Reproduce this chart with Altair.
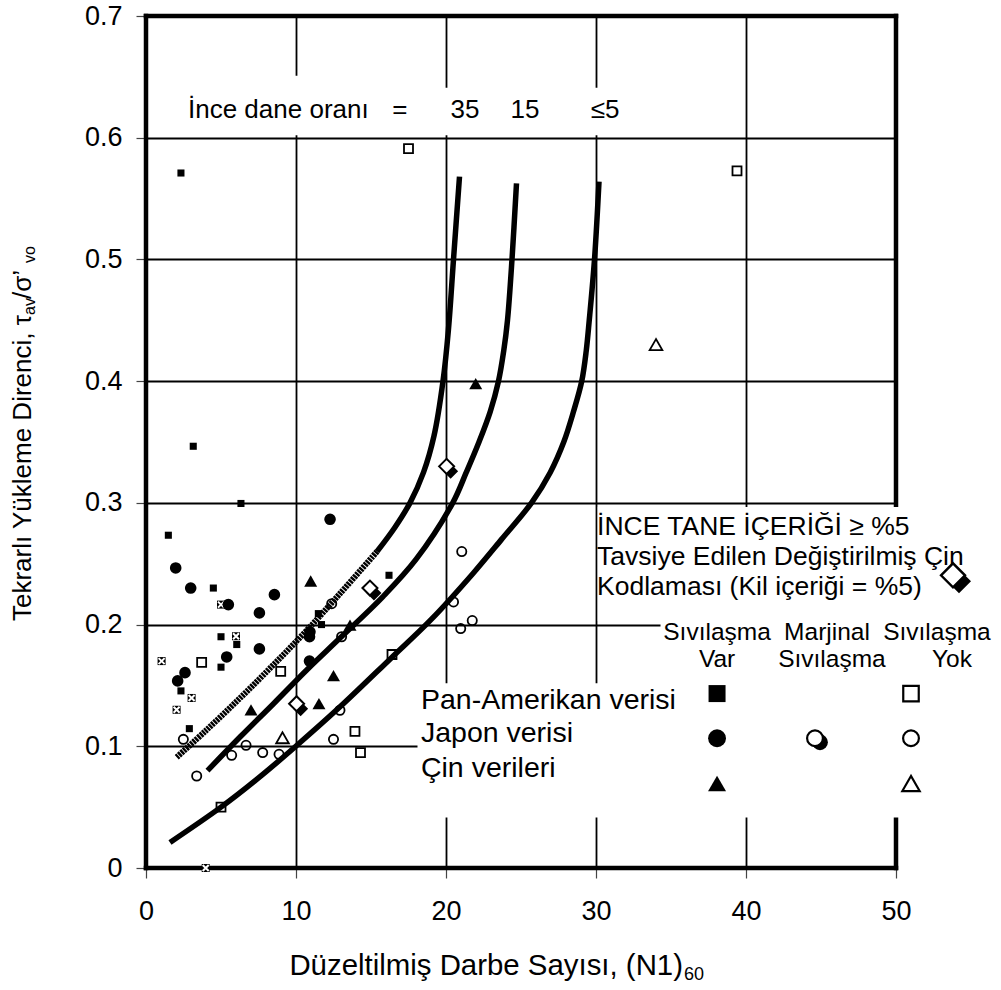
import altair as alt
import pandas as pd

FONT = "Liberation Sans"

# ---------------- curves (fines content 35 %, 15 %, <=5 %) ----------------
c35a_x = [2.05, 4.0, 6.3, 8.5, 10.7, 12.9, 15.4]
c35a_y = [0.091, 0.113, 0.140, 0.167, 0.195, 0.225, 0.260]
c35b_x = [15.4, 16.6, 17.6, 18.5, 19.2, 19.8, 20.16, 20.5, 20.9]
c35b_y = [0.260, 0.280, 0.300, 0.325, 0.355, 0.400, 0.442, 0.500, 0.568]
c15_x = [4.1, 6.3, 8.5, 10.7, 12.9, 15.8, 18.0, 20.45, 21.35, 22.2, 22.95, 23.5, 23.85, 24.1, 24.4, 24.7]
c15_y = [0.080, 0.108, 0.135, 0.1625, 0.1885, 0.223, 0.2535, 0.300, 0.325, 0.350, 0.375, 0.400, 0.425, 0.450, 0.500, 0.5625]
c5_x = [1.6, 5.0, 7.4, 9.8, 12.9, 16.3, 19.0, 21.8, 23.7, 25.7, 26.95, 27.85, 28.5, 29.05, 29.35, 29.55, 29.9, 30.2]
c5_y = [0.021, 0.050, 0.073, 0.098, 0.132, 0.172, 0.204, 0.242, 0.270, 0.300, 0.325, 0.350, 0.375, 0.400, 0.425, 0.450, 0.500, 0.564]

# ---------------- data points ----------------
sq_small_x = [2.33, 3.15, 6.33, 1.49, 4.49, 16.2, 11.49, 11.7, 5.0, 6.05, 5.0, 2.33, 2.89]
sq_small_y = [0.571, 0.3465, 0.2995, 0.2734, 0.230, 0.2405, 0.209, 0.200, 0.190, 0.1836, 0.165, 0.1455, 0.1145]
sq_x_x = [5.0, 6.0, 1.04, 3.04, 2.04, 3.98]
sq_x_y = [0.2164, 0.1904, 0.170, 0.1397, 0.130, 0.0]
sq_open_x = [17.5, 39.4, 3.71, 8.98, 16.4, 13.93, 14.3, 5.0]
sq_open_y = [0.591, 0.5727, 0.169, 0.1616, 0.1754, 0.1123, 0.0948, 0.050]
circ_fill_x = [1.98, 2.98, 12.27, 5.49, 7.56, 8.56, 10.93, 10.9, 10.9, 7.56, 5.38, 2.6, 2.11]
circ_fill_y = [0.2465, 0.230, 0.2865, 0.2164, 0.2096, 0.2246, 0.194, 0.190, 0.170, 0.180, 0.1734, 0.1605, 0.1537]
circ_open_x = [21.05, 12.38, 20.5, 20.98, 21.75, 13.04, 12.93, 12.5, 2.49, 6.67, 5.71, 7.78, 8.87, 3.38]
circ_open_y = [0.260, 0.2172, 0.2186, 0.1967, 0.2033, 0.190, 0.1296, 0.1057, 0.1057, 0.1008, 0.0926, 0.0948, 0.0934, 0.0756]
tri_fill_x = [21.98, 10.98, 13.6, 12.5, 7.0, 11.53]
tri_fill_y = [0.398, 0.2358, 0.1995, 0.158, 0.130, 0.135]
tri_open_x = [34.0, 9.1]
tri_open_y = [0.43, 0.107]
dia_x = [20.04, 14.93, 10.04]
dia_y = [0.330, 0.230, 0.135]

# ---------------- legend / annotation content ----------------
top_texts = ["İnce dane oranı", "=", "35", "15", "≤5"]
top_x = [2.8, 16.93, 21.27, 25.27, 30.6]
top_y = 0.6226
block_texts = ["İNCE TANE İÇERİĞİ  ≥ %5", "Tavsiye Edilen Değiştirilmiş Çin", "Kodlaması (Kil içeriği = %5)"]
block_x = 30.07
block_y = [0.280, 0.2553, 0.2306]
head_texts = ["Sıvılaşma", "Var", "Marjinal", "Sıvılaşma", "Sıvılaşma", "Yok"]
head_x = [38.07, 38.07, 45.4, 45.73, 52.73, 53.73]
head_y = [0.1929, 0.1707, 0.1929, 0.1707, 0.1929, 0.1707]
src_texts = ["Pan-Amerikan verisi", "Japon verisi", "Çin verileri"]
src_x = 18.33
src_y = [0.1378, 0.1107, 0.0821]
leg_col_x = [38.07, 44.6, 51.0]
leg_row_y = [0.1433, 0.1066, 0.0694]
leg_dia = (53.8, 0.2405)

x_ticks = [0, 10, 20, 30, 40, 50]
y_ticks = [0, 0.1, 0.2, 0.3, 0.4, 0.5, 0.6, 0.7]

# white boxes behind text (data units) and frame
box_x = [2.6, 18.7, 30.12, 34.3, 18.1]
box_x2 = [18.7, 32.2, 60.0, 60.0, 34.4]
box_y = [0.602, 0.602, 0.203, 0.0415, 0.0415]
box_y2 = [0.651, 0.641, 0.2965, 0.21, 0.1518]
frame_x = [0, 0, 0, 50]
frame_x2 = [0, 50, 50, 50]
frame_y = [0, 0.7, 0, 0]
frame_y2 = [0.7, 0.7, 0, 0.7]

PLOT_W, PLOT_H = 750, 852
PAD_L, PAD_T = 146, 16

# ---------------- encodings ----------------
xscale = alt.Scale(domain=[0, 50], nice=False, zero=False)
yscale = alt.Scale(domain=[0, 0.7], nice=False, zero=False)
xaxis = alt.Axis(values=x_ticks, title=None, grid=True, gridColor="black", gridWidth=1.8,
                 gridOpacity=1, domain=False, tickSize=10, tickColor="#444", tickWidth=1.2,
                 labelFont=FONT, labelFontSize=27, labelColor="black", labelPadding=20,
                 labelFlush=False)
yaxis = alt.Axis(values=y_ticks, title=None, grid=True, gridColor="black", gridWidth=1.8,
                 gridOpacity=1, domain=False, tickSize=10, tickColor="#444", tickWidth=1.2,
                 labelFont=FONT, labelFontSize=27, labelColor="black", labelPadding=14,
                 labelFlush=False,
                 labelExpr="datum.value == 0 ? '0' : format(datum.value, '.1f')")
X = alt.X("x:Q", scale=xscale, axis=xaxis)
Y = alt.Y("y:Q", scale=yscale, axis=yaxis)


def df(xs, ys):
    return pd.DataFrame({"x": xs, "y": ys})


layers = []

# frame
frame_df = pd.DataFrame({"x": frame_x, "x2": frame_x2, "y": frame_y, "y2": frame_y2})
layers.append(alt.Chart(frame_df).mark_rule(color="black", strokeWidth=4.5, strokeCap="square").encode(
    x=X, y=Y, x2="x2:Q", y2="y2:Q"))

# white boxes
box_df = pd.DataFrame({"x": box_x, "x2": box_x2, "y": box_y, "y2": box_y2})
layers.append(alt.Chart(box_df).mark_rect(fill="white", opacity=1).encode(
    x=X, y=Y, x2="x2:Q", y2="y2:Q"))

# curves
layers.append(alt.Chart(df(c35a_x, c35a_y)).mark_line(
    color="black", strokeWidth=6, interpolate="catmull-rom", strokeDash=[2.4, 0.8]).encode(x=X, y=Y))
for cx, cy in [(c35b_x, c35b_y), (c15_x, c15_y), (c5_x, c5_y)]:
    layers.append(alt.Chart(df(cx, cy)).mark_line(
        color="black", strokeWidth=5.5, interpolate="catmull-rom").encode(x=X, y=Y))


def pt(data, shape, size, filled, sw=1.6, fill=None, xo=0, yo=0):
    kw = dict(shape=shape, size=size, opacity=1)
    if filled and fill:
        kw.update(filled=True, fill=fill, stroke="black", strokeWidth=sw)
    elif filled:
        kw.update(filled=True, fill="black", strokeWidth=0)
    else:
        kw.update(filled=False, color="black", strokeWidth=sw)
    if xo:
        kw["xOffset"] = xo
    if yo:
        kw["yOffset"] = yo
    return alt.Chart(data).mark_point(**kw).encode(x=X, y=Y)


XPATH = "M-0.75,-0.75L0.75,0.75M-0.75,0.75L0.75,-0.75"

# plot points
layers.append(pt(df(sq_small_x, sq_small_y), "square", 50, True))
layers.append(pt(df(sq_x_x, sq_x_y), "square", 64, True))
layers.append(alt.Chart(df(sq_x_x, sq_x_y)).mark_point(
    shape=XPATH, size=64, filled=False, color="white", strokeWidth=2.0, opacity=1).encode(x=X, y=Y))
layers.append(pt(df(sq_open_x, sq_open_y), "square", 81, False, sw=1.8))
layers.append(pt(df(circ_fill_x, circ_fill_y), "circle", 135, True))
layers.append(pt(df(circ_open_x, circ_open_y), "circle", 85, False, sw=1.8))
layers.append(pt(df(tri_fill_x, tri_fill_y), "triangle-up", 169, True))
layers.append(pt(df(tri_open_x, tri_open_y), "triangle-up", 160, False, sw=1.8))
layers.append(pt(df(dia_x, dia_y), "diamond", 225, True, xo=4, yo=5))
layers.append(pt(df(dia_x, dia_y), "diamond", 225, True, sw=2, fill="white"))

# legend symbols
cx1, cx2, cx3 = leg_col_x
r1, r2, r3 = leg_row_y
layers.append(pt(df([cx1], [r1]), "square", 289, True))
layers.append(pt(df([cx3], [r1]), "square", 240, False, sw=2.2))
layers.append(pt(df([cx1], [r2]), "circle", 320, True))
layers.append(pt(df([cx2], [r2]), "circle", 250, True, xo=5, yo=4))
layers.append(pt(df([cx2], [r2]), "circle", 250, True, sw=2.2, fill="white"))
layers.append(pt(df([cx3], [r2]), "circle", 250, False, sw=2.2))
layers.append(pt(df([cx1], [r3]), "triangle-up", 324, True))
layers.append(pt(df([cx3], [r3]), "triangle-up", 300, False, sw=2.2))
layers.append(pt(df([leg_dia[0]], [leg_dia[1]]), "diamond", 576, True, xo=6, yo=6))
layers.append(pt(df([leg_dia[0]], [leg_dia[1]]), "diamond", 576, True, sw=2.4, fill="white"))


def txt(texts, xs, ys, size, align="left"):
    d = pd.DataFrame({"x": xs, "y": ys, "t": texts})
    return alt.Chart(d).mark_text(font=FONT, fontSize=size, align=align, baseline="middle",
                                  color="black").encode(x=X, y=Y, text="t:N")


layers.append(txt(top_texts[:1], top_x[:1], [top_y], 26, "left"))
layers.append(txt(top_texts[1:], top_x[1:], [top_y] * 4, 26, "center"))
layers.append(txt(block_texts, [block_x] * 3, block_y, 26.5, "left"))
layers.append(txt(head_texts, head_x, head_y, 24.5, "center"))
layers.append(txt(src_texts, [src_x] * 3, src_y, 28.5, "left"))


# axis titles drawn as text pieces (for subscripts), pixel positions relative to plot origin
def ptxt(text, px, py, size, align, angle=0):
    d = pd.DataFrame({"t": [text]})
    kw = dict(font=FONT, fontSize=size, align=align, baseline="alphabetic", color="black")
    if angle:
        kw["angle"] = angle
    return alt.Chart(d).mark_text(**kw).encode(
        x=alt.value(px - PAD_L), y=alt.value(py - PAD_T), text="t:N")


layers.append(ptxt("Düzeltilmiş Darbe Sayısı, (N1)", 683, 975, 29.4, "right"))
layers.append(ptxt("60", 684, 980, 18, "left"))
layers.append(ptxt("Tekrarlı  Yükleme Direnci, τ", 31, 315, 26, "right", 270))
layers.append(ptxt("av", 35, 315, 16, "left", 270))
layers.append(ptxt("/σ’", 31, 299, 26, "left", 270))
layers.append(ptxt("vo", 35, 263, 16, "left", 270))

chart = alt.layer(*layers).properties(
    width=PLOT_W, height=PLOT_H,
    autosize=alt.AutoSizeParams(type="none"),
    padding={"left": PAD_L, "top": PAD_T, "right": 1001 - PAD_L - PLOT_W, "bottom": 990 - PAD_T - PLOT_H},
    background="white",
).configure_view(strokeWidth=0)

chart.save("out.html", embed_options={"renderer": "svg", "actions": False})
